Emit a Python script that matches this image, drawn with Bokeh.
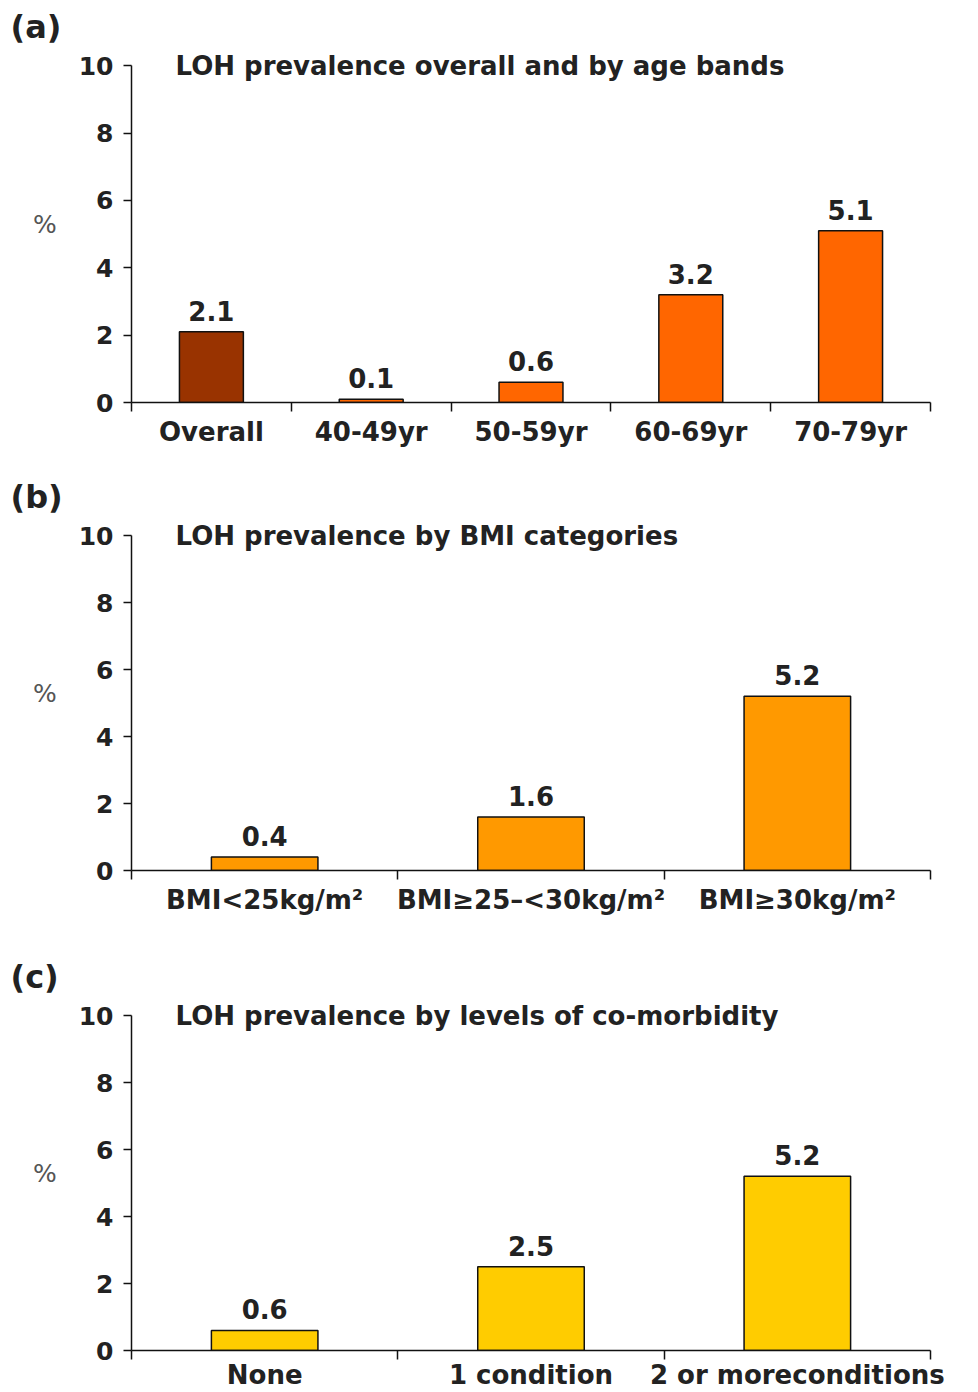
from bokeh.plotting import figure
from bokeh.models import Range1d, FixedTicker, ColumnDataSource, LabelSet
from bokeh.layouts import column
from bokeh.embed import file_html
from bokeh.resources import INLINE
from bokeh.core.properties import value

# ---------------- data ----------------
age_categories = ["Overall", "40-49yr", "50-59yr", "60-69yr", "70-79yr"]
age_values = [2.1, 0.1, 0.6, 3.2, 5.1]
age_colors = ["#993300", "#FF6600", "#FF6600", "#FF6600", "#FF6600"]

bmi_categories = ["BMI<25kg/m\u00b2", "BMI\u226525\u2013<30kg/m\u00b2", "BMI\u226530kg/m\u00b2"]
bmi_values = [0.4, 1.6, 5.2]
bmi_colors = ["#FF9900", "#FF9900", "#FF9900"]

comorb_categories = ["None", "1 condition", "2 or moreconditions"]
comorb_values = [0.6, 2.5, 5.2]
comorb_colors = ["#FFCC00", "#FFCC00", "#FFCC00"]

y_ticks = [0, 2, 4, 6, 8, 10]
panel_titles = [
    "LOH prevalence overall and by age bands",
    "LOH prevalence by BMI categories",
    "LOH prevalence by levels of co-morbidity",
]
panel_tags = ["(a)", "(b)", "(c)"]
y_label = "%"

FONT = "DejaVu Sans"
TXT = "#222222"


def make_panel(cats, vals, colors, title, tag, height, b_top, b_bottom, b_right, standoff):
    n = len(cats)
    p = figure(width=970, height=height, output_backend="svg", toolbar_location=None,
               x_range=Range1d(0, n), y_range=Range1d(0, 10.6),
               min_border_left=131, min_border_right=b_right,
               min_border_top=b_top, min_border_bottom=b_bottom)
    p.outline_line_color = None
    p.xgrid.visible = False
    p.ygrid.visible = False
    p.background_fill_color = "white"
    p.border_fill_color = "white"

    # panel tag as figure title, shifted left of the frame
    p.title.text = tag
    p.title.align = "left"
    p.title.offset = -121
    p.title.standoff = 0
    p.title.text_font = FONT
    p.title.text_font_size = "32px"
    p.title.text_font_style = "bold"
    p.title.text_color = TXT

    xs = [i + 0.5 for i in range(n)]
    src = ColumnDataSource(dict(x=xs, top=vals, color=colors,
                                label=["%.1f" % v for v in vals]))
    p.vbar(x="x", top="top", bottom=0, width=0.4, fill_color="color",
           line_color="#111111", line_width=1.5, source=src)
    p.add_layout(LabelSet(x="x", y="top", text="label", source=src,
                          text_align="center", text_baseline="alphabetic",
                          y_offset=11, text_font=value(FONT), text_font_size=value("26px"),
                          text_font_style=value("bold"), text_color=TXT))
    p.text(x=[0], y=[10], text=[title], x_offset=44, text_align="left",
           text_baseline="middle", text_font=value(FONT), text_font_size="26px",
           text_font_style="bold", text_color=TXT)

    xa = p.xaxis[0]
    xa.ticker = FixedTicker(ticks=xs, minor_ticks=list(range(n + 1)))
    xa.major_label_overrides = {x: c for x, c in zip(xs, cats)}
    xa.major_tick_out = 0
    xa.major_tick_in = 0
    xa.minor_tick_out = 9
    xa.minor_tick_in = 0
    xa.minor_tick_line_color = "#111111"
    xa.minor_tick_line_width = 1.5
    xa.axis_line_color = "#111111"
    xa.axis_line_width = 1.5
    xa.major_label_standoff = standoff
    xa.major_label_text_font = FONT
    xa.major_label_text_font_size = "26px"
    xa.major_label_text_font_style = "bold"
    xa.major_label_text_color = TXT

    ya = p.yaxis[0]
    ya.ticker = FixedTicker(ticks=y_ticks, minor_ticks=[])
    ya.bounds = (0, 10)
    ya.major_tick_out = 8
    ya.major_tick_in = 0
    ya.major_tick_line_color = "#111111"
    ya.major_tick_line_width = 1.5
    ya.axis_line_color = "#111111"
    ya.axis_line_width = 1.5
    ya.major_label_standoff = 10
    ya.major_label_text_font = FONT
    ya.major_label_text_font_size = "25px"
    ya.major_label_text_font_style = "bold"
    ya.major_label_text_color = TXT
    ya.axis_label = y_label
    ya.axis_label_text_font = FONT
    ya.axis_label_text_font_size = "25px"
    ya.axis_label_text_font_style = "normal"
    ya.axis_label_text_color = "#555555"
    ya.axis_label_standoff = 19
    if "axis_label_orientation" in ya.properties():
        ya.axis_label_orientation = "horizontal"
    return p


pa = make_panel(age_categories, age_values, age_colors, panel_titles[0], panel_tags[0],
                470, 45, 68, 40, 5)
pb = make_panel(bmi_categories, bmi_values, bmi_colors, panel_titles[1], panel_tags[1],
                472, 45, 72, 33, 5)
pc = make_panel(comorb_categories, comorb_values, comorb_colors, panel_titles[2], panel_tags[2],
                450, 53, 41, 24, 0)

layout = column(pa, pb, pc, spacing=0)
open("out.html", "w").write(file_html(layout, INLINE))
